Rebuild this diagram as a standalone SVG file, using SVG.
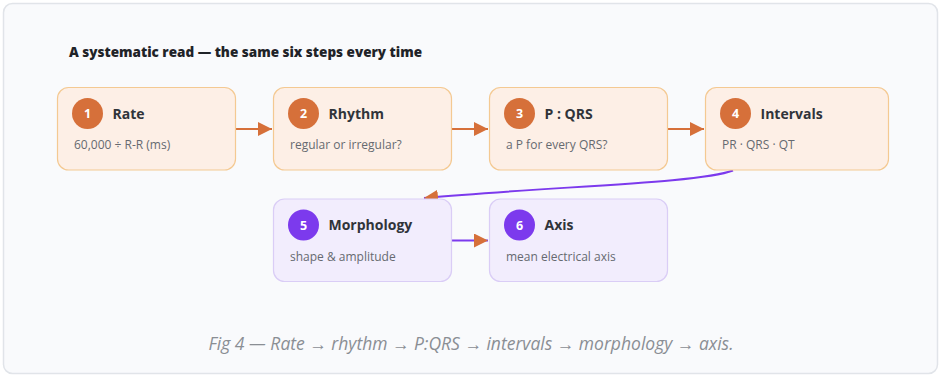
<svg xmlns="http://www.w3.org/2000/svg" width="942" height="376" viewBox="0 0 942 376">
  <defs>
    <marker id="arrow" viewBox="0 0 14 14" refX="14" refY="7" markerWidth="14" markerHeight="14" markerUnits="userSpaceOnUse" orient="auto">
      <path d="M0,0 L14,7 L0,14 Z" fill="#D6703A"/>
    </marker>
    <style>
      .card { fill: #F9FAFC; stroke: #E1E4E9; stroke-width: 1.5; }
      .heading { font-family: "Open Sans", "Noto Sans", sans-serif; font-weight: 800; font-size: 13.5px; fill: #1F2328; }
      .warm { fill: #FDEFE6; stroke: #F4C992; stroke-width: 1.2; }
      .cool { fill: #F2EDFD; stroke: #DACDF6; stroke-width: 1.2; }
      .badge-warm { fill: #D6703A; }
      .badge-cool { fill: #7C3AED; }
      .num { font-family: "Open Sans", "Noto Sans", sans-serif; font-weight: 700; font-size: 12.5px; fill: #FFFFFF; text-anchor: middle; }
      .title { font-family: "Open Sans", "Noto Sans", sans-serif; font-weight: 700; font-size: 14px; fill: #30343A; }
      .sub { font-family: "Open Sans", "Noto Sans", sans-serif; font-size: 12px; fill: #666A70; }
      .edge-warm { fill: none; stroke: #D6703A; stroke-width: 2; }
      .edge-cool { fill: none; stroke: #7C3AED; stroke-width: 2; }
      .caption { font-family: "Open Sans", "Noto Sans", sans-serif; font-style: italic; font-size: 17.5px; fill: #8A8E94; text-anchor: middle; }
    </style>
  </defs>

  <rect x="0" y="0" width="942" height="376" fill="#FFFFFF"/>
  <rect class="card" x="3.5" y="3.5" width="934" height="370" rx="9"/>

  <text class="heading" x="69" y="57">A systematic read — the same six steps every time</text>

  <!-- connectors -->
  <g id="connectors">
    <path class="edge-warm" d="M236,129 L272,129" marker-end="url(#arrow)"/>
    <path class="edge-warm" d="M452,129 L488,129" marker-end="url(#arrow)"/>
    <path class="edge-warm" d="M668,129 L704,129" marker-end="url(#arrow)"/>
    <path class="edge-cool" d="M733,170.5 C700,183 560,186 424,198" marker-end="url(#arrow)"/>
    <path class="edge-cool" d="M452,240.5 L488,240.5" marker-end="url(#arrow)"/>
  </g>

  <!-- step 1 -->
  <g id="step-rate">
    <rect class="warm" x="57.5" y="87.5" width="178" height="82.5" rx="11"/>
    <circle class="badge-warm" cx="87.5" cy="113.5" r="15.5"/>
    <text class="num" x="87.5" y="118">1</text>
    <text class="title" x="112.5" y="118.5">Rate</text>
    <text class="sub" x="74" y="149">60,000 ÷ R-R (ms)</text>
  </g>

  <!-- step 2 -->
  <g id="step-rhythm">
    <rect class="warm" x="273.5" y="87.5" width="178" height="82.5" rx="11"/>
    <circle class="badge-warm" cx="303.5" cy="113.5" r="15.5"/>
    <text class="num" x="303.5" y="118">2</text>
    <text class="title" x="328.5" y="118.5">Rhythm</text>
    <text class="sub" x="290" y="149">regular or irregular?</text>
  </g>

  <!-- step 3 -->
  <g id="step-pqrs">
    <rect class="warm" x="489.5" y="87.5" width="178" height="82.5" rx="11"/>
    <circle class="badge-warm" cx="519.5" cy="113.5" r="15.5"/>
    <text class="num" x="519.5" y="118">3</text>
    <text class="title" x="544.5" y="118.5">P : QRS</text>
    <text class="sub" x="506" y="149">a P for every QRS?</text>
  </g>

  <!-- step 4 -->
  <g id="step-intervals">
    <rect class="warm" x="705.5" y="87.5" width="183" height="82.5" rx="11"/>
    <circle class="badge-warm" cx="735.5" cy="113.5" r="15.5"/>
    <text class="num" x="735.5" y="118">4</text>
    <text class="title" x="760.5" y="118.5">Intervals</text>
    <text class="sub" x="722" y="149">PR · QRS · QT</text>
  </g>

  <!-- step 5 -->
  <g id="step-morphology">
    <rect class="cool" x="273.5" y="199" width="178" height="82.5" rx="11"/>
    <circle class="badge-cool" cx="303.5" cy="225" r="15.5"/>
    <text class="num" x="303.5" y="229.5">5</text>
    <text class="title" x="328.5" y="230">Morphology</text>
    <text class="sub" x="290" y="261">shape &amp; amplitude</text>
  </g>

  <!-- step 6 -->
  <g id="step-axis">
    <rect class="cool" x="489.5" y="199" width="178" height="82.5" rx="11"/>
    <circle class="badge-cool" cx="519.5" cy="225" r="15.5"/>
    <text class="num" x="519.5" y="229.5">6</text>
    <text class="title" x="544.5" y="230">Axis</text>
    <text class="sub" x="506" y="261">mean electrical axis</text>
  </g>

  <text class="caption" x="471" y="350">Fig 4 — Rate → rhythm → P:QRS → intervals → morphology → axis.</text>
</svg>
